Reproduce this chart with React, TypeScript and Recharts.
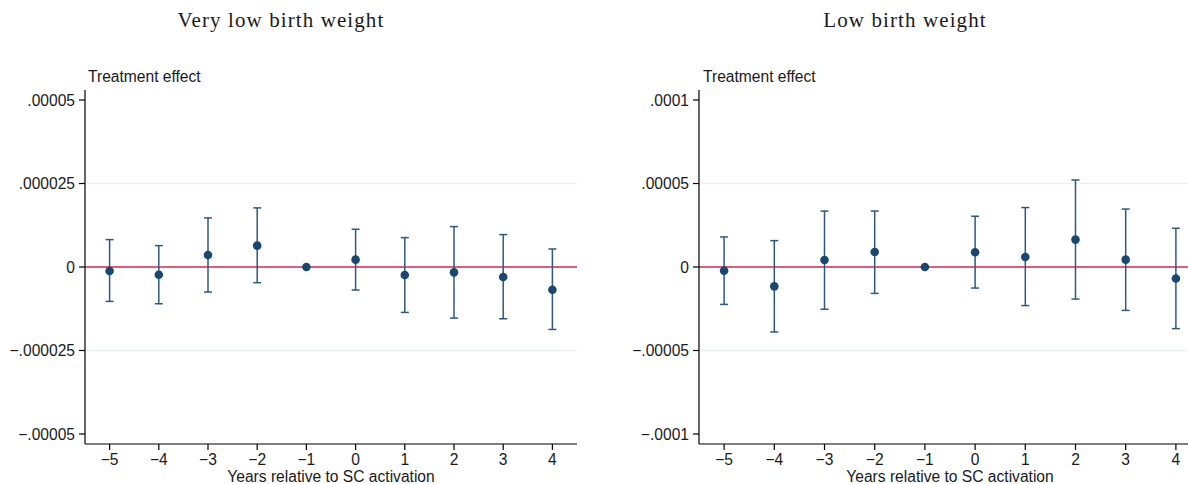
import { ComposedChart, Scatter, ErrorBar, XAxis, YAxis, CartesianGrid, ReferenceLine, Label } from 'recharts'

// event time relative to SC activation
const years = [-5, -4, -3, -2, -1, 0, 1, 2, 3, 4]

// very low birth weight: point estimates and 95% CI bounds
const vlbwEst = [-1.2e-6, -2.3e-6, 3.6e-6, 6.4e-6, 0, 2.2e-6, -2.4e-6, -1.6e-6, -3.0e-6, -6.8e-6]
const vlbwLo = [-1.03e-5, -1.1e-5, -7.5e-6, -4.7e-6, 0, -6.9e-6, -1.36e-5, -1.53e-5, -1.55e-5, -1.87e-5]
const vlbwHi = [8.2e-6, 6.4e-6, 1.47e-5, 1.77e-5, 0, 1.13e-5, 8.8e-6, 1.21e-5, 9.7e-6, 5.4e-6]
const vlbwTicks = [-0.00005, -0.000025, 0, 0.000025, 0.00005]
const vlbwGrid = [-0.000025, 0.000025]

// low birth weight
const lbwEst = [-2.2e-6, -1.16e-5, 4.2e-6, 9.0e-6, 0, 8.8e-6, 6.0e-6, 1.64e-5, 4.4e-6, -6.9e-6]
const lbwLo = [-2.24e-5, -3.89e-5, -2.53e-5, -1.58e-5, 0, -1.26e-5, -2.31e-5, -1.92e-5, -2.6e-5, -3.69e-5]
const lbwHi = [1.8e-5, 1.58e-5, 3.35e-5, 3.35e-5, 0, 3.04e-5, 3.56e-5, 5.21e-5, 3.47e-5, 2.32e-5]
const lbwTicks = [-0.0001, -0.00005, 0, 0.00005, 0.0001]
const lbwGrid = [-0.00005, 0.00005]

const NAVY = '#1a476f'
const BAR = '#2f5880'
const RED = '#d7264f'
const FONT = 'Liberation Sans, Arial, sans-serif'
const TEXT = '#1a1a1a'

function buildRows(est: number[], lo: number[], hi: number[]) {
  return years.map((year, i) => ({
    year,
    est: est[i],
    ci: [est[i] - lo[i], hi[i] - est[i]],
  }))
}

// Stata-style tick text: no leading zero, real minus sign
function fmtTick(v: number) {
  if (v === 0) return '0'
  const s = Math.abs(v).toFixed(6).replace(/0+$/, '').replace(/^0/, '')
  return (v < 0 ? '\u2212' : '') + s
}

function fmtYear(v: number) {
  return v < 0 ? '\u2212' + Math.abs(v) : String(v)
}

type PanelProps = {
  left: number
  width: number
  yWidth: number
  marginRight: number
  bound: number
  ticks: number[]
  grid: number[]
  est: number[]
  lo: number[]
  hi: number[]
}

function Panel({ left, width, yWidth, marginRight, bound, ticks, grid, est, lo, hi }: PanelProps) {
  const rows = buildRows(est, lo, hi)
  const tickStyle = { fontSize: 15.6, fill: TEXT, fontFamily: FONT }
  return (
    <div style={{ position: 'absolute', left, top: 0 }}>
      <ComposedChart width={width} height={484} data={rows} margin={{ top: 90, right: marginRight, bottom: 0, left: 0 }}>
        <CartesianGrid horizontal vertical={false} horizontalValues={grid} stroke="#eaf1f3" strokeWidth={1.3} />
        <XAxis
          dataKey="year"
          type="number"
          domain={[-5.5, 4.5]}
          ticks={years}
          interval={0}
          tickFormatter={fmtYear}
          tick={tickStyle}
          tickSize={6}
          tickMargin={4}
          height={40}
          stroke="#000"
          strokeWidth={1.2}
          allowDataOverflow
        >
          <Label
            value="Years relative to SC activation"
            position="insideBottom"
            offset={2}
            style={{ fontSize: 15.6, fill: TEXT, fontFamily: FONT }}
          />
        </XAxis>
        <YAxis
          type="number"
          domain={[-bound, bound]}
          ticks={ticks}
          interval={0}
          tickFormatter={fmtTick}
          tick={tickStyle}
          tickSize={6}
          tickMargin={4}
          width={yWidth}
          stroke="#000"
          strokeWidth={1.2}
          allowDataOverflow
        />
        <ReferenceLine y={0} stroke={RED} strokeWidth={1.6} />
        <Scatter dataKey="est" fill={NAVY} isAnimationActive={false} shape={(p: any) => <circle cx={p.cx} cy={p.cy} r={4.3} fill={NAVY} />}>
          <ErrorBar dataKey="ci" direction="y" width={4} stroke={BAR} strokeWidth={1.5} isAnimationActive={false} />
        </Scatter>
      </ComposedChart>
    </div>
  )
}

const titleStyle = {
  position: 'absolute' as const,
  top: 8,
  fontFamily: 'Liberation Serif, DejaVu Serif, serif',
  fontSize: 21,
  letterSpacing: 1.1,
  color: TEXT,
  whiteSpace: 'nowrap' as const,
  transform: 'translateX(-50%)',
}

const yTitleStyle = {
  position: 'absolute' as const,
  top: 68,
  fontFamily: FONT,
  fontSize: 15.6,
  color: TEXT,
  whiteSpace: 'nowrap' as const,
}

export default function App() {
  return (
    <div style={{ position: 'absolute', left: 0, top: 0, width: 1188, height: 484, overflow: 'hidden', background: '#fff' }}>
      <div style={{ ...titleStyle, left: 281 }}>Very low birth weight</div>
      <div style={{ ...titleStyle, left: 905 }}>Low birth weight</div>
      <div style={{ ...yTitleStyle, left: 88 }}>Treatment effect</div>
      <div style={{ ...yTitleStyle, left: 703 }}>Treatment effect</div>
      <Panel
        left={0}
        width={594}
        yWidth={85}
        marginRight={17}
        bound={0.000053}
        ticks={vlbwTicks}
        grid={vlbwGrid}
        est={vlbwEst}
        lo={vlbwLo}
        hi={vlbwHi}
      />
      <Panel
        left={594}
        width={620}
        yWidth={105}
        marginRight={13}
        bound={0.000106}
        ticks={lbwTicks}
        grid={lbwGrid}
        est={lbwEst}
        lo={lbwLo}
        hi={lbwHi}
      />
    </div>
  )
}
